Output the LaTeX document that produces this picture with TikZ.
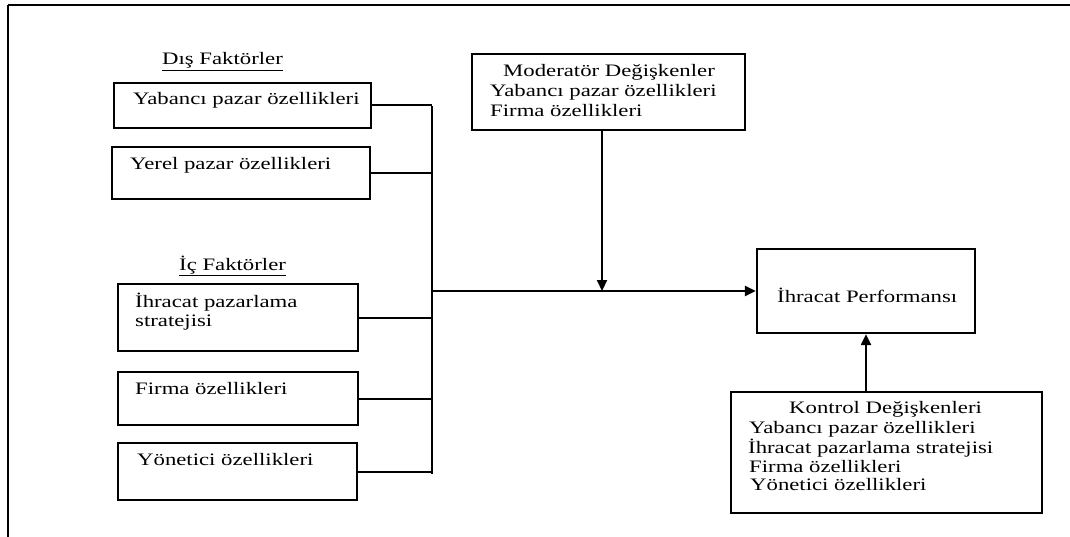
\documentclass[tikz,border=0pt]{standalone}
\usepackage{fontspec}
\setmainfont{Liberation Serif}[FakeStretch=1.3]
\usetikzlibrary{arrows.meta}
\begin{document}
\begin{tikzpicture}[x=1pt,y=-1pt,
  box/.style={draw,rectangle,line width=2.3pt,inner sep=0pt},
  txt/.style={anchor=base west,inner sep=0pt,font=\fontsize{17.5}{19}\selectfont},
  wire/.style={line width=2pt},
  flow/.style={line width=2.2pt,-{Triangle[length=11pt,width=10pt]}}]
\useasboundingbox (0,0) rectangle (1070,537);
% page frame: top and left rules only
\draw[line width=2.5pt] (8,5) -- (1070,5);
\draw[line width=1.2pt] (8,5) -- (8,537);

% external factors
\node[txt] (dis) at (162,65) {\underline{Dış Faktörler}};
\node[box,minimum width=257pt,minimum height=45pt] (b1) at (242.5,105.5) {};
\node[txt] (t1) at (133,105) {Yabancı pazar özellikleri};
\node[box,minimum width=258pt,minimum height=52pt] (b2) at (241,173) {};
\node[txt] (t2) at (130,170) {Yerel pazar özellikleri};

% internal factors
\node[txt] (ic) at (179,270) {\underline{İç Faktörler}};
\node[box,minimum width=240pt,minimum height=67pt] (b3) at (238,317.5) {};
\node[txt] (t3a) at (135,307) {İhracat pazarlama};
\node[txt] (t3b) at (135,326) {stratejisi};
\node[box,minimum width=240pt,minimum height=53pt] (b4) at (238,398.5) {};
\node[txt] (t4) at (135,394) {Firma özellikleri};
\node[box,minimum width=239pt,minimum height=57pt] (b5) at (237.5,471.5) {};
\node[txt] (t5) at (137,465) {Yönetici özellikleri};

% moderator variables
\node[box,minimum width=273pt,minimum height=76pt] (mod) at (608.5,92) {};
\node[txt] (m1) at (503,77) {Moderatör Değişkenler};
\node[txt] (m2) at (490,97) {Yabancı pazar özellikleri};
\node[txt] (m3) at (490,117) {Firma özellikleri};

% export performance
\node[box,minimum width=218pt,minimum height=84pt] (perf) at (866,291) {};
\node[txt] (p1) at (777,302) {İhracat Performansı};

% control variables
\node[box,minimum width=311pt,minimum height=121pt] (kon) at (886.5,452.5) {};
\node[txt] (k1) at (789,413) {Kontrol Değişkenleri};
\node[txt] (k2) at (749,433) {Yabancı pazar özellikleri};
\node[txt] (k3) at (748,453) {İhracat pazarlama stratejisi};
\node[txt] (k4) at (749,472) {Firma özellikleri};
\node[txt] (k5) at (750,490) {Yönetici özellikleri};

% collecting bus
\coordinate (bt) at (432,106);
\coordinate (bb) at (432,474);
\coordinate (j) at (432,291);
\coordinate (ms) at (602,130);
\draw[wire] (bt) -- (bb);
\foreach \b in {b1,b2,b3,b4,b5}
  \draw[wire] (\b.east) -- (\b.east -| bt);

% arrows
\draw[flow] (j) -- (perf.west);
\draw[flow] (ms) -- (ms |- j);
\draw[flow] (kon.north -| perf.south) -- (perf.south);
\end{tikzpicture}
\end{document}
